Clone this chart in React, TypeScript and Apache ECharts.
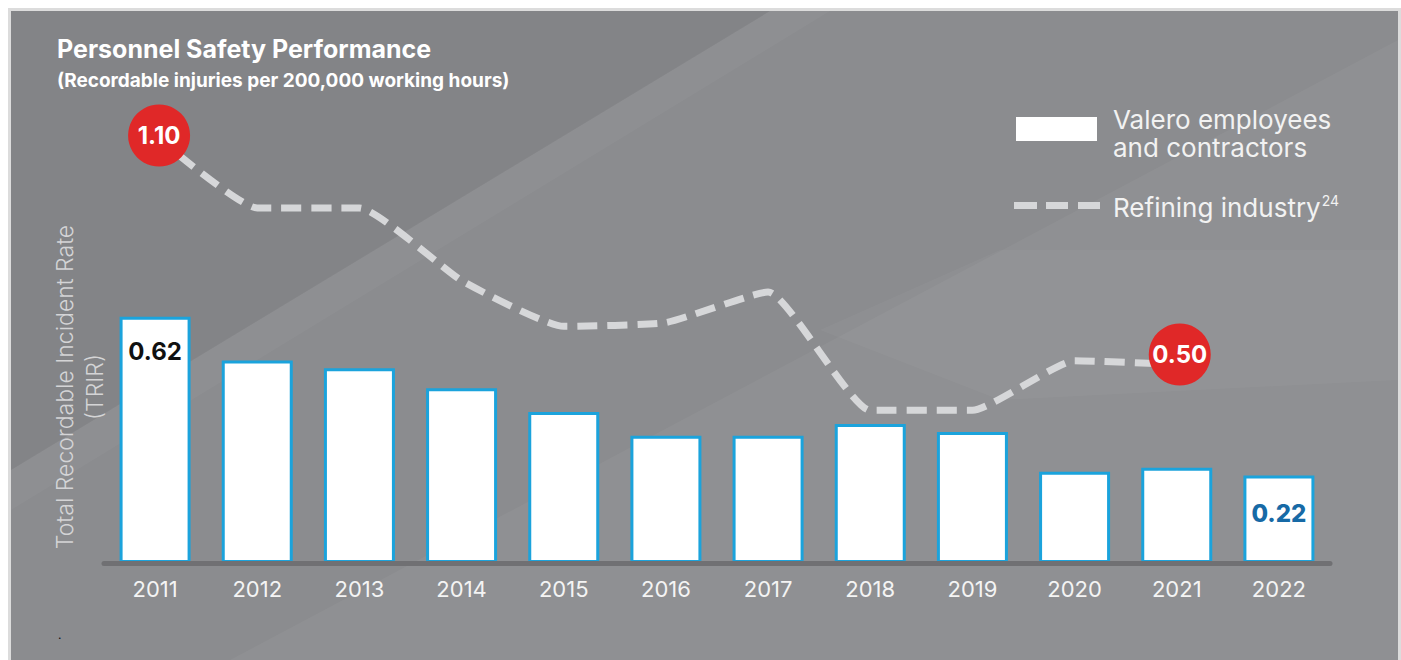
import React, { useEffect, useRef } from "react";
import * as echarts from "echarts";

const years = ["2011", "2012", "2013", "2014", "2015", "2016", "2017", "2018", "2019", "2020", "2021", "2022"];
const valeroTRIR = [0.62, 0.51, 0.49, 0.44, 0.38, 0.32, 0.32, 0.35, 0.33, 0.23, 0.24, 0.22];
const refiningTRIR = [1.1, 0.91, 0.91, 0.72, 0.6, 0.61, 0.69, 0.38, 0.38, 0.51, 0.5, null];
const labelledBars = ["2011", "2022"];
const labelledLinePoints = ["2011", "2021"];

const FONT = "Inter, 'Noto Sans', sans-serif";

export default function App() {
  const ref = useRef<HTMLDivElement>(null);
  useEffect(() => {
    if (!ref.current) return;
    const chart = echarts.init(ref.current, null, { renderer: "svg" });

    const barData = years.map((y, i) => {
      const v = valeroTRIR[i];
      if (!labelledBars.includes(y)) return v;
      const last = y === "2022";
      return {
        value: v,
        label: {
          show: true,
          position: "insideTop",
          distance: last ? 26 : 23,
          formatter: (p: any) => Number(p.value).toFixed(2),
          color: last ? "#176aa6" : "#111111",
          fontSize: 24,
          fontWeight: last ? 800 : 700,
          fontFamily: FONT,
          lineHeight: 24,
        },
      };
    });

    const circleData = labelledLinePoints.map((y) => {
      const i = years.indexOf(y);
      return {
        value: [y, refiningTRIR[i]],
        symbolOffset: y === "2011" ? [4, 0] : [3, -10],
      };
    });

    const option: any = {
      animation: false,
      backgroundColor: "#ffffff",
      grid: { left: 104, right: 71, top: 126, bottom: 97 },
      xAxis: {
        type: "category",
        data: years,
        z: 5,
        axisLine: { show: true, lineStyle: { color: "#707073", width: 5 } },
        axisTick: { show: false },
        axisLabel: {
          color: "#f4f4f4",
          fontSize: 22,
          fontFamily: FONT,
          margin: 15,
        },
      },
      yAxis: [
        { type: "value", min: 0, max: 1.1, show: false },
        { type: "value", min: -0.02, max: 1.125, show: false },
      ],
      graphic: [
        { type: "rect", shape: { x: 8, y: 8, width: 1393, height: 652 }, style: { fill: "#dcdcdc" }, z: -10 },
        { type: "rect", shape: { x: 11, y: 11, width: 1387, height: 649 }, style: { fill: "#8b8c8f" }, z: -9 },
        { type: "polygon", shape: { points: [[11, 11], [770, 11], [11, 470]] }, style: { fill: "rgba(0,0,0,0.05)" }, z: -8 },
        { type: "polygon", shape: { points: [[11, 470], [770, 11], [830, 11], [11, 510]] }, style: { fill: "rgba(255,255,255,0.03)" }, z: -8 },
        { type: "polygon", shape: { points: [[230, 660], [1398, 40], [1398, 660]] }, style: { fill: "rgba(255,255,255,0.04)" }, z: -8 },
        { type: "polygon", shape: { points: [[820, 330], [1000, 250], [1398, 250], [1398, 380], [1000, 400]] }, style: { fill: "rgba(255,255,255,0.03)" }, z: -8 },
        {
          type: "text", left: 57, top: 36, z: 10,
          style: { text: "Personnel Safety Performance", fill: "#ffffff", font: `700 25px ${FONT}` },
        },
        {
          type: "text", left: 57, top: 71, z: 10,
          style: { text: "(Recordable injuries per 200,000 working hours)", fill: "#ffffff", font: `700 19px ${FONT}` },
        },
        {
          type: "text", x: 65, y: 387, rotation: Math.PI / 2, z: 10,
          style: { text: "Total Recordable Incident Rate", fill: "#d4d4d6", font: `300 23px ${FONT}`, align: "center", verticalAlign: "middle" },
        },
        {
          type: "text", x: 95, y: 387, rotation: Math.PI / 2, z: 10,
          style: { text: "(TRIR)", fill: "#d4d4d6", font: `300 23px ${FONT}`, align: "center", verticalAlign: "middle" },
        },
        { type: "rect", shape: { x: 1016, y: 117, width: 81, height: 24 }, style: { fill: "#ffffff" }, z: 10 },
        {
          type: "text", x: 1113, y: 119, z: 10,
          style: { text: "Valero employees", fill: "#f2f2f2", font: `400 26px ${FONT}`, verticalAlign: "middle" },
        },
        {
          type: "text", x: 1113, y: 147, z: 10,
          style: { text: "and contractors", fill: "#f2f2f2", font: `400 26px ${FONT}`, verticalAlign: "middle" },
        },
        { type: "rect", shape: { x: 1014, y: 202, width: 23, height: 7 }, style: { fill: "#d6d7d9" }, z: 10 },
        { type: "rect", shape: { x: 1046, y: 202, width: 22, height: 7 }, style: { fill: "#d6d7d9" }, z: 10 },
        { type: "rect", shape: { x: 1078, y: 202, width: 22, height: 7 }, style: { fill: "#d6d7d9" }, z: 10 },
        {
          type: "text", x: 1113, y: 207, z: 10,
          style: {
            text: "{a|Refining industry}{s|24}",
            verticalAlign: "middle",
            rich: {
              a: { fill: "#f2f2f2", fontSize: 26, fontFamily: FONT, fontWeight: 400, lineHeight: 28 },
              s: { fill: "#f2f2f2", fontSize: 14, fontFamily: FONT, fontWeight: 400, verticalAlign: "top", lineHeight: 14, padding: [0, 0, 0, 1] },
            },
          },
        },
        {
          type: "text", x: 58, y: 628, z: 10,
          style: { text: ".", fill: "#111111", font: `400 12px ${FONT}` },
        },
      ],
      series: [
        {
          type: "bar",
          data: barData,
          barWidth: 71,
          yAxisIndex: 0,
          itemStyle: { color: "#ffffff", borderColor: "#1ba3dc", borderWidth: 3 },
          z: 2,
        },
        {
          type: "line",
          data: refiningTRIR,
          yAxisIndex: 1,
          symbol: "none",
          smooth: 0.15,
          lineStyle: { color: "#d6d7d9", width: 7, type: [20, 10], cap: "butt" },
          z: 6,
        },
        {
          type: "scatter",
          data: circleData,
          yAxisIndex: 1,
          symbol: "circle",
          symbolSize: 62,
          itemStyle: { color: "#e02828", opacity: 1 },
          label: {
            show: true,
            position: "inside",
            formatter: (p: any) => Number(p.value[1]).toFixed(2),
            color: "#ffffff",
            fontSize: 24,
            fontWeight: 700,
            fontFamily: FONT,
          },
          z: 8,
        },
      ],
    };
    chart.setOption(option);
    return () => chart.dispose();
  }, []);

  return <div ref={ref} style={{ position: "absolute", left: 0, top: 0, width: 1401, height: 660 }} />;
}
